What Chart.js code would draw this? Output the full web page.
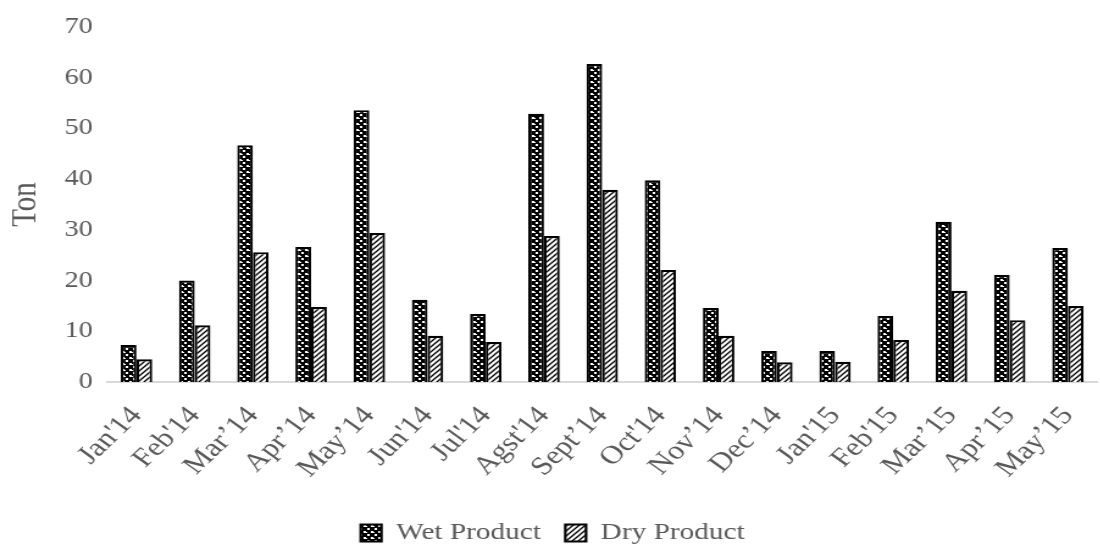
<!DOCTYPE html>
<html>
<head>
<meta charset="utf-8">
<script src="https://cdn.jsdelivr.net/npm/chart.js@4"></script>
<style>
  html, body { margin: 0; padding: 0; background: #fff; overflow: hidden; }
  /* the reference is a horizontally stretched picture, so the chart is drawn narrow and widened */
  #wrap { width: 910px; height: 547px; position: relative; transform: scaleX(1.22); transform-origin: 0 0; }
</style>
</head>
<body>
<div id="wrap"><canvas id="chart"></canvas></div>
<script>
const months = ["Jan'14", "Feb'14", "Mar’14", "Apr’14", "May’14", "Jun'14", "Jul'14", "Agst'14", "Sept’14",
                "Oct'14", "Nov’14", "Dec’14", "Jan'15", "Feb'15", "Mar’15", "Apr’15", "May’15"];
const wetProduct = [7.3, 20, 46.7, 26.6, 53.6, 16.2, 13.4, 52.9, 62.7, 39.8, 14.6, 6.1, 6.1, 13, 31.6, 21.1, 26.4];
const dryProduct = [4.5, 11.2, 25.6, 14.8, 29.4, 9.1, 7.9, 28.8, 37.9, 22.1, 9.1, 3.9, 4, 8.3, 18, 12.2, 15];
const yTicks = [0, 10, 20, 30, 40, 50, 60, 70];

const textGray = '#595959';
const serif = "'Liberation Serif', 'DejaVu Serif', serif";

// black fill with white dots
function wetPattern() {
    const c = document.createElement('canvas');
    c.width = 6; c.height = 6;
    const g = c.getContext('2d');
    g.fillStyle = '#000';
    g.fillRect(0, 0, 6, 6);
    g.fillStyle = '#fff';
    g.fillRect(1, 0, 2, 2);
    g.fillRect(4, 3, 2, 2);
    g.fillRect(0, 4, 1, 1);
    return g.createPattern(c, 'repeat');
}

// white with black diagonal hatching
function dryPattern() {
    const c = document.createElement('canvas');
    c.width = 5; c.height = 5;
    const g = c.getContext('2d');
    g.fillStyle = '#fff';
    g.fillRect(0, 0, 5, 5);
    g.strokeStyle = '#000';
    g.lineWidth = 1.3;
    g.beginPath();
    g.moveTo(-1, 6); g.lineTo(6, -1);
    g.moveTo(-3, 3); g.lineTo(3, -3);
    g.moveTo(2, 8); g.lineTo(8, 2);
    g.stroke();
    return g.createPattern(c, 'repeat');
}

new Chart(document.getElementById('chart'), {
    type: 'bar',
    data: {
        labels: months,
        datasets: [
            {
                label: 'Wet Product',
                data: wetProduct,
                backgroundColor: wetPattern(),
                borderColor: '#000',
                borderWidth: 2.2,
                categoryPercentage: 0.54,
                barPercentage: 1
            },
            {
                label: 'Dry Product',
                data: dryProduct,
                backgroundColor: dryPattern(),
                borderColor: '#000',
                borderWidth: 2.2,
                categoryPercentage: 0.54,
                barPercentage: 1
            }
        ]
    },
    options: {
        responsive: true,
        maintainAspectRatio: false,
        animation: false,
        layout: { padding: { top: 27, right: 4, left: 0, bottom: -8 } },
        plugins: {
            legend: {
                position: 'bottom',
                labels: {
                    color: textGray,
                    font: { family: serif, size: 24 },
                    boxWidth: 17,
                    boxHeight: 17,
                    padding: 20
                }
            },
            tooltip: { enabled: false }
        },
        scales: {
            x: {
                grid: { display: false },
                border: { color: '#d9d9d9', width: 2 },
                afterFit: axis => { axis.height = 119; },
                ticks: {
                    color: textGray,
                    font: { family: serif, size: 26 },
                    autoSkip: false,
                    minRotation: 49,
                    maxRotation: 49,
                    padding: 11
                }
            },
            y: {
                min: 0,
                max: 70,
                afterBuildTicks: axis => { axis.ticks = yTicks.map(v => ({ value: v })); },
                afterFit: axis => { axis.width = 88; },
                grid: { display: false },
                border: { display: false },
                ticks: {
                    color: textGray,
                    font: { family: serif, size: 23 },
                    padding: 4
                },
                title: {
                    display: true,
                    text: 'Ton',
                    color: textGray,
                    font: { family: serif, size: 29 },
                    padding: { top: 4, bottom: 0 }
                }
            }
        }
    }
});
</script>
</body>
</html>
